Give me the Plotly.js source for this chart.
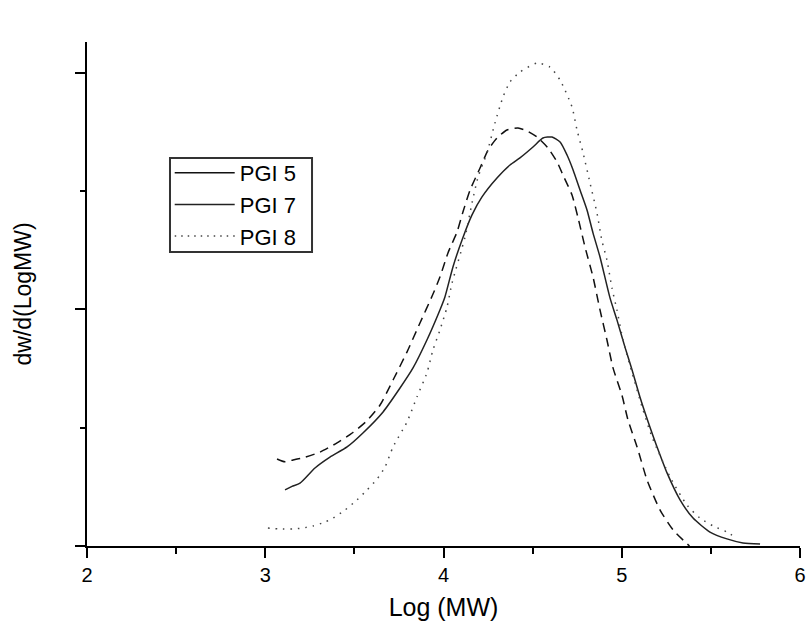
<!DOCTYPE html>
<html>
<head>
<meta charset="utf-8">
<script src="https://cdn.plot.ly/plotly-3.0.1.min.js"></script>
<style>html,body{margin:0;padding:0;background:#fff;}#chart{width:806px;height:625px;}</style>
</head>
<body>
<div id="chart"></div>
<script>
// Series names
const seriesNames = ["PGI 5", "PGI 7", "PGI 8"];

// PGI 5 (dashed curve)
const pgi5_x = [3.066,3.111,3.156,3.212,3.307,3.403,3.492,3.571,3.644,3.717,3.795,3.868,3.938,3.980,4.025,4.076,4.109,4.149,4.205,4.250,4.300,4.356,4.418,4.468,4.525,4.586,4.637,4.670,4.721,4.755,4.794,4.839,4.878,4.917,4.951,5.001,5.035,5.086,5.142,5.215,5.288,5.380];
const pgi5_y = [0.368,0.356,0.364,0.373,0.397,0.436,0.480,0.530,0.596,0.702,0.820,0.943,1.060,1.137,1.239,1.328,1.412,1.505,1.598,1.674,1.725,1.759,1.767,1.755,1.729,1.683,1.624,1.569,1.484,1.387,1.264,1.137,0.998,0.871,0.753,0.638,0.533,0.419,0.279,0.152,0.068,0.000];

// PGI 7 (solid curve)
const pgi7_x = [3.111,3.150,3.195,3.279,3.363,3.459,3.548,3.661,3.756,3.829,3.907,3.980,4.008,4.053,4.104,4.160,4.216,4.300,4.373,4.429,4.502,4.558,4.609,4.654,4.693,4.727,4.766,4.805,4.839,4.878,4.934,4.973,5.018,5.058,5.102,5.158,5.198,5.254,5.327,5.400,5.495,5.590,5.680,5.776];
const pgi7_y = [0.237,0.252,0.266,0.330,0.376,0.419,0.478,0.567,0.668,0.753,0.871,0.998,1.053,1.180,1.294,1.400,1.476,1.556,1.611,1.641,1.687,1.725,1.729,1.708,1.653,1.590,1.505,1.421,1.323,1.222,1.049,0.956,0.841,0.744,0.630,0.503,0.419,0.309,0.195,0.118,0.059,0.030,0.013,0.008];

// PGI 8 (dotted curve)
const pgi8_x = [3.015,3.083,3.156,3.212,3.268,3.335,3.380,3.447,3.515,3.571,3.627,3.672,3.717,3.795,3.851,3.907,3.941,3.980,4.020,4.048,4.121,4.160,4.194,4.244,4.289,4.334,4.373,4.429,4.525,4.597,4.654,4.721,4.749,4.783,4.822,4.861,4.889,4.917,4.945,4.973,5.007,5.058,5.114,5.170,5.271,5.366,5.439,5.512,5.590,5.635];
const pgi8_y = [0.076,0.072,0.072,0.076,0.085,0.101,0.118,0.152,0.195,0.237,0.283,0.334,0.419,0.524,0.630,0.732,0.829,0.913,1.011,1.112,1.307,1.450,1.560,1.662,1.789,1.899,1.962,2.004,2.042,2.025,1.970,1.856,1.759,1.662,1.535,1.408,1.290,1.209,1.091,0.998,0.871,0.732,0.588,0.461,0.292,0.173,0.118,0.085,0.059,0.038];

// Axis ticks
const xTickVals = [2, 3, 4, 5, 6];
const xTickText = ["2", "3", "4", "5", "6"];
const yTickVals = [0, 1, 2];

const FONT = "Liberation Sans, Arial, sans-serif";

const traces = [
  {x: pgi5_x, y: pgi5_y, mode: "lines", name: seriesNames[0], showlegend: false,
   line: {color: "#111", width: 1.5, dash: "9px,6px", shape: "spline", smoothing: 0.6}},
  {x: pgi7_x, y: pgi7_y, mode: "lines", name: seriesNames[1], showlegend: false,
   line: {color: "#222", width: 1.5, shape: "spline", smoothing: 0.6}},
  {x: pgi8_x, y: pgi8_y, mode: "lines", name: seriesNames[2], showlegend: false,
   line: {color: "#444", width: 1.5, dash: "1.5px,6px", shape: "spline", smoothing: 0.6}},
  // legend entries (as drawn in the reference legend)
  {x: [null], y: [null], mode: "lines", name: seriesNames[0], line: {color: "#111", width: 1.5}},
  {x: [null], y: [null], mode: "lines", name: seriesNames[1], line: {color: "#222", width: 1.5}},
  {x: [null], y: [null], mode: "lines", name: seriesNames[2], line: {color: "#444", width: 1.5, dash: "1.5px,5px"}}
];

const layout = {
  width: 806, height: 625,
  margin: {l: 87, r: 6, t: 42, b: 79, pad: 0},
  paper_bgcolor: "#fff", plot_bgcolor: "#fff",
  font: {family: FONT, color: "#000", size: 20},
  showlegend: true,
  legend: {
    x: 0.116, y: 0.7817, xanchor: "left", yanchor: "top",
    bgcolor: "rgba(0,0,0,0)", borderwidth: 0,
    font: {family: FONT, size: 22, color: "#000"},
    itemwidth: 60, tracegroupgap: 0
  },
  shapes: [
    {type: "rect", xref: "paper", yref: "paper", x0: 0.1164, x1: 0.3156, y0: 0.5833, y1: 0.7698,
     line: {color: "#333", width: 2}, fillcolor: "rgba(0,0,0,0)", layer: "below"}
  ],
  xaxis: {
    range: [2, 6], showgrid: false, zeroline: false,
    showline: true, linecolor: "#000", linewidth: 2,
    ticks: "outside", ticklen: 10, tickwidth: 2, tickcolor: "#000",
    tickvals: xTickVals, ticktext: xTickText,
    tickfont: {family: FONT, size: 20, color: "#000"},
    minor: {tickvals: [2.5, 3.5, 4.5, 5.5], ticks: "outside", ticklen: 6, tickwidth: 2, tickcolor: "#000", showgrid: false},
    title: {text: "Log (MW)", font: {family: FONT, size: 25, color: "#000"}, standoff: 13}
  },
  yaxis: {
    range: [0, 2.131], showgrid: false, zeroline: false,
    showline: true, linecolor: "#000", linewidth: 2,
    ticks: "outside", ticklen: 10, tickwidth: 2, tickcolor: "#000",
    tickvals: yTickVals, showticklabels: false,
    minor: {tickvals: [0.5, 1.5], ticks: "outside", ticklen: 5, tickwidth: 2, tickcolor: "#000", showgrid: false},
    title: {text: "dw/d(LogMW)", font: {family: FONT, size: 23, color: "#000"}, standoff: 37}
  }
};

Plotly.newPlot("chart", traces, layout, {staticPlot: true, displayModeBar: false});
</script>
</body>
</html>
